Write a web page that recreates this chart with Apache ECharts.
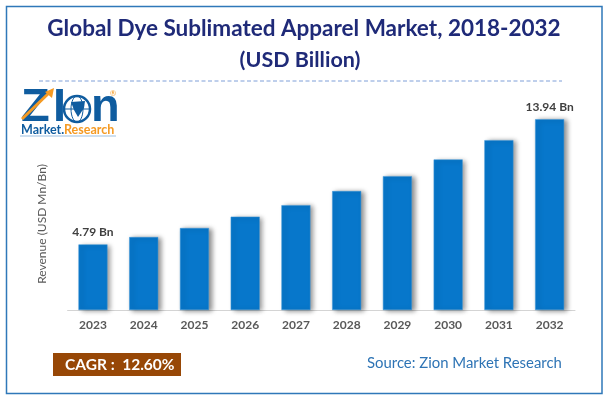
<!DOCTYPE html>
<html>
<head>
<meta charset="utf-8">
<title>Global Dye Sublimated Apparel Market</title>
<script src="https://cdn.jsdelivr.net/npm/echarts@6/dist/echarts.min.js"></script>
<style>
  html, body { margin:0; padding:0; background:#fff; }
  #chart { width:608px; height:401px; }
</style>
</head>
<body>
<div id="chart"></div>
<script>
// valores
const years = ['2023','2024','2025','2026','2027','2028','2029','2030','2031','2032'];
const revenue = [4.79, 5.33, 5.99, 6.82, 7.66, 8.69, 9.78, 11.0, 12.41, 13.94];
const shownLabels = { '2023': '4.79 Bn', '2032': '13.94 Bn' };

const FONT = 'Lato, "Open Sans", sans-serif';
const chart = echarts.init(document.getElementById('chart'), null, { renderer: 'canvas' });

function txt(x, y, text, size, color, extra) {
  return {
    type: 'text', x, y,
    style: Object.assign({ text, fontFamily: FONT, fontSize: size, fill: color, textVerticalAlign: 'middle' }, extra || {})
  };
}

chart.setOption({
  animation: false,
  grid: { left: 67.6, right: 33, top: 91, bottom: 91 },
  xAxis: {
    type: 'category',
    data: years,
    axisTick: { show: false },
    axisLine: { lineStyle: { color: '#d4d4d4', width: 1 } },
    axisLabel: { color: '#595959', fontFamily: FONT, fontWeight: 'bold', fontSize: 12, margin: 9 }
  },
  yAxis: { type: 'value', min: 0, max: 16, show: false, splitLine: { show: false } },
  series: [{
    type: 'bar',
    barWidth: 29,
    data: revenue.map((v, i) => ({
      value: v,
      label: {
        show: !!shownLabels[years[i]],
        position: 'top',
        distance: 6,
        formatter: shownLabels[years[i]] || '',
        color: '#404040',
        fontFamily: FONT,
        fontWeight: 'bold',
        fontSize: 12
      }
    })),
    itemStyle: {
      color: '#0777cb',
      borderColor: '#3f97d8',
      borderWidth: 0.5,
      shadowColor: 'rgba(0,0,0,0.45)',
      shadowBlur: 5,
      shadowOffsetX: 3,
      shadowOffsetY: 1
    }
  }],
  graphic: [
    // moldura e linha tracejada
    { type: 'rect', shape: { x: 6.5, y: 6.5, width: 595.5, height: 387 }, style: { fill: 'none', stroke: '#2f78b9', lineWidth: 1.5 }, z: 0 },
    { type: 'line', shape: { x1: 39, y1: 81, x2: 562, y2: 81 }, style: { stroke: '#7f9fd8', lineWidth: 1, lineDash: [4, 2.5] } },
    // titulo
    txt(304, 29, 'Global Dye Sublimated Apparel Market, 2018-2032', 22.5, '#1f2a78', { fontWeight: 'bold', align: 'center' }),
    txt(300, 60, '(USD Billion)', 21.5, '#1f2a78', { fontWeight: 'bold', align: 'center' }),
    // logo
    txt(21, 108, 'Z', 47, '#0f5c9f', { fontWeight: 900, fontFamily: '"Liberation Sans", sans-serif' }),
    txt(53, 108, 'I', 47, '#0f5c9f', { fontWeight: 900, fontFamily: '"Liberation Sans", sans-serif' }),
    { type: 'polyline', shape: { points: [[22, 119], [50, 92]] }, style: { stroke: '#f59a23', lineWidth: 3, fill: 'none' } },
    { type: 'polygon', shape: { points: [[54, 88], [52, 98], [45, 92]] }, style: { fill: '#f59a23' } },
    { type: 'circle', shape: { cx: 77, cy: 109, r: 13 }, style: { fill: '#fff', stroke: '#0f5c9f', lineWidth: 2.5 } },
    { type: 'ellipse', shape: { cx: 77, cy: 109, rx: 6, ry: 13 }, style: { fill: 'none', stroke: '#0f5c9f', lineWidth: 1 } },
    { type: 'line', shape: { x1: 64, y1: 109, x2: 90, y2: 109 }, style: { stroke: '#0f5c9f', lineWidth: 1 } },
    { type: 'polygon', shape: { points: [[71, 102], [85, 101], [84, 108], [78, 117], [74, 110]] }, style: { fill: '#0f5c9f' } },
    txt(91, 108, 'n', 47, '#0f5c9f', { fontWeight: 900, fontFamily: '"Liberation Sans", sans-serif' }),
    txt(21, 130, 'Market.', 12.5, '#0f5c9f', { fontWeight: 'bold' }),
    txt(64, 130, 'Research', 12.5, '#f59a23', { fontWeight: 'bold' }),
    { type: 'line', shape: { x1: 20, y1: 136, x2: 116, y2: 136 }, style: { stroke: '#9dbfe0', lineWidth: 1 } },
    txt(113, 93, '®', 8, '#f59a23', { align: 'center' }),
    // titulo do eixo
    {
      type: 'text', x: 42, y: 224, rotation: Math.PI / 2,
      style: { text: 'Revenue (USD Mn/Bn)', fontFamily: FONT, fontSize: 12, fill: '#595959', align: 'center', textVerticalAlign: 'middle' }
    },
    // CAGR e fonte
    { type: 'rect', shape: { x: 53, y: 353, width: 128, height: 23 }, style: { fill: '#974706' } },
    txt(65, 365, 'CAGR :  12.60%', 15.5, '#ffffff', { fontWeight: 'bold' }),
    txt(367, 363, 'Source: Zion Market Research', 14.9, '#2e74b5')
  ]
});
</script>
</body>
</html>
